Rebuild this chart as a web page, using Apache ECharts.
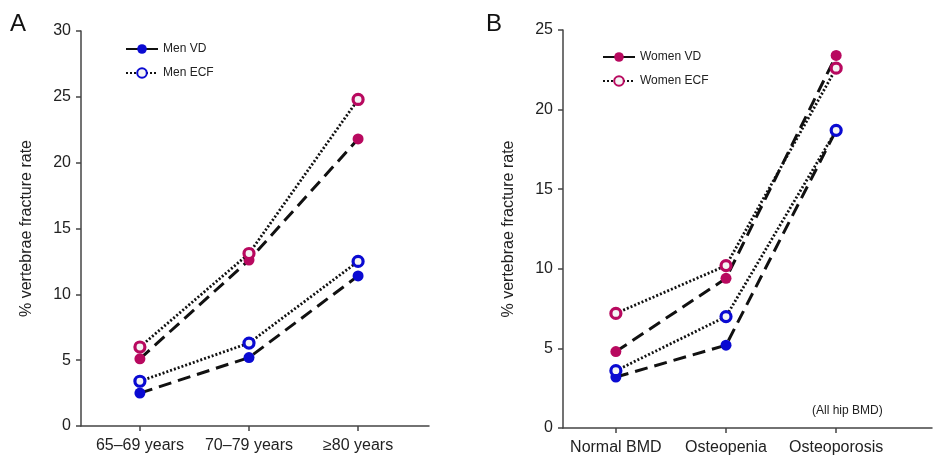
<!DOCTYPE html>
<html lang="en">
  <head>
    <meta charset="UTF-8" />
    <title>Vertebral fracture rate</title>
    <script src="https://cdn.jsdelivr.net/npm/echarts@6/dist/echarts.min.js"></script>
    <style>
      html, body { margin: 0; padding: 0; background: #fff; }
      #main { width: 934px; height: 459px; }
    </style>
  </head>
  <body>
    <div id="main"></div>
    <script type="text/javascript">
      // panel A: age groups
      var ageGroups = ["65–69 years", "70–79 years", "≥80 years"];
      var menVD = [2.5, 5.2, 11.4];
      var menECF = [3.4, 6.3, 12.5];
      var womenVDa = [5.1, 12.6, 21.8];
      var womenECFa = [6.0, 13.1, 24.8];

      // panel B: hip BMD groups
      var bmdGroups = ["Normal BMD", "Osteopenia", "Osteoporosis"];
      var womenVD = [4.8, 9.4, 23.4];
      var womenECF = [7.2, 10.2, 22.6];
      var menVDb = [3.2, 5.2, 18.7];
      var menECFb = [3.6, 7.0, 18.7];

      var BLUE = "#0a0ad2";
      var MAGENTA = "#b8095f";
      var FONT = "Liberation Sans, Arial, sans-serif";

      function pts(values) {
        return values.map(function (v, i) { return [i, v]; });
      }

      function makeSeries(name, values, idx, color, ring) {
        return {
          name: name,
          type: "line",
          xAxisIndex: idx,
          yAxisIndex: idx,
          data: pts(values),
          symbol: "circle",
          symbolSize: ring ? 10 : 11,
          itemStyle: {
            color: ring ? "#f4f4f4" : color,
            borderColor: color,
            borderWidth: ring ? 3.2 : 0,
          },
          lineStyle: {
            color: "#111",
            width: ring ? 2.8 : 3,
            type: ring ? [2, 2] : [13, 7],
          },
          z: ring ? 3 : 2,
          animation: false,
        };
      }

      function xAxisFor(idx, cats, min, max) {
        return {
          type: "value",
          gridIndex: idx,
          min: min,
          max: max,
          splitLine: { show: false },
          axisLine: { onZero: false, lineStyle: { color: "#444", width: 1.5 } },
          axisTick: {
            show: true,
            length: 5,
            lineStyle: { color: "#444", width: 1.5 },
            customValues: [0, 1, 2],
          },
          axisLabel: {
            customValues: [0, 1, 2],
            formatter: function (v) { return cats[Math.round(v)]; },
            color: "#222",
            fontSize: 16,
            fontFamily: FONT,
            margin: 12,
          },
        };
      }

      function yAxisFor(idx, max) {
        return {
          type: "value",
          gridIndex: idx,
          min: 0,
          max: max,
          interval: 5,
          name: "% vertebrae fracture rate",
          nameLocation: "middle",
          nameGap: 46,
          nameTextStyle: { color: "#222", fontSize: 16, fontFamily: FONT },
          splitLine: { show: false },
          axisLine: { show: true, onZero: false, lineStyle: { color: "#444", width: 1.5 } },
          axisTick: { show: true, length: 5, lineStyle: { color: "#444", width: 1.5 } },
          axisLabel: { color: "#222", fontSize: 16, fontFamily: FONT, margin: 10 },
        };
      }

      var legendText = { color: "#222", fontSize: 12, fontFamily: FONT };

      var option = {
        backgroundColor: "#fff",
        animation: false,
        grid: [
          { left: 81, top: 31, width: 348, height: 395 },
          { left: 563, top: 30, width: 369, height: 398 },
        ],
        legend: [
          {
            data: ["Men VD", "Men ECF"],
            orient: "vertical",
            left: 120,
            top: 38,
            itemWidth: 32,
            itemHeight: 12,
            itemGap: 12,
            textStyle: legendText,
          },
          {
            data: ["Women VD", "Women ECF"],
            orient: "vertical",
            left: 597,
            top: 46,
            itemWidth: 32,
            itemHeight: 12,
            itemGap: 12,
            textStyle: legendText,
          },
        ],
        xAxis: [
          xAxisFor(0, ageGroups, -0.54, 2.65),
          xAxisFor(1, bmdGroups, -0.48, 2.87),
        ],
        yAxis: [yAxisFor(0, 30), yAxisFor(1, 25)],
        graphic: [
          {
            type: "text",
            left: 10,
            top: 12,
            style: { text: "A", fontSize: 24, fill: "#111", fontFamily: FONT },
          },
          {
            type: "text",
            left: 486,
            top: 12,
            style: { text: "B", fontSize: 24, fill: "#111", fontFamily: FONT },
          },
          {
            type: "text",
            left: 812,
            top: 405,
            style: { text: "(All hip BMD)", fontSize: 12, fill: "#222", fontFamily: FONT },
          },
        ],
        series: [
          makeSeries("Women VD A", womenVDa, 0, MAGENTA, false),
          makeSeries("Women ECF A", womenECFa, 0, MAGENTA, true),
          makeSeries("Men VD", menVD, 0, BLUE, false),
          makeSeries("Men ECF", menECF, 0, BLUE, true),
          makeSeries("Women VD", womenVD, 1, MAGENTA, false),
          makeSeries("Women ECF", womenECF, 1, MAGENTA, true),
          makeSeries("Men VD B", menVDb, 1, BLUE, false),
          makeSeries("Men ECF B", menECFb, 1, BLUE, true),
        ],
      };

      var myChart = echarts.init(document.getElementById("main"));
      myChart.setOption(option);
    </script>
  </body>
</html>
